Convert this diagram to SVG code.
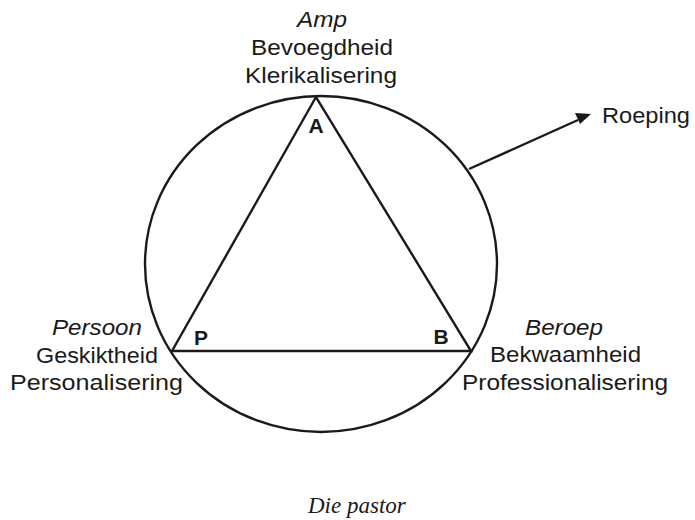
<svg xmlns="http://www.w3.org/2000/svg" width="695" height="520" viewBox="0 0 695 520">
<style>
.t{font-family:"Liberation Sans",Arial,sans-serif;font-size:22px;fill:#1a1a1a}
.i{font-style:italic}
.b{font-family:"Liberation Sans",Arial,sans-serif;font-size:21px;font-weight:bold;fill:#1a1a1a;text-anchor:middle}
.s{fill:none;stroke:#1a1a1a;stroke-width:2.4}
.cap{font-family:"Liberation Serif","Times New Roman",serif;font-size:23px;font-style:italic;fill:#1a1a1a}
</style>
<defs>
<marker id="ah" markerWidth="10" markerHeight="10" refX="9" refY="5" orient="auto" markerUnits="userSpaceOnUse" viewBox="0 0 10 10">
<path d="M0,0 L10,5 L0,10 Z" fill="#1a1a1a"/>
</marker>
</defs>
<rect width="695" height="520" fill="#fff"/>
<g id="circle"><ellipse class="s" cx="321" cy="264" rx="176" ry="168"/></g>
<g id="triangle"><polygon class="s" points="316,97 172,351 471,351" stroke-linejoin="miter"/></g>
<g id="connectors">
<line class="s" x1="469" y1="169" x2="578" y2="120"/>
<path d="M591,114 L575,113 L580,124 Z" fill="#1a1a1a"/>
</g>
<g id="node-A">
<text class="b" x="316" y="133">A</text>
<text class="t i" x="297" y="27" textLength="50" lengthAdjust="spacingAndGlyphs">Amp</text>
<text class="t" x="251" y="55" textLength="142" lengthAdjust="spacingAndGlyphs">Bevoegdheid</text>
<text class="t" x="245" y="83" textLength="152" lengthAdjust="spacingAndGlyphs">Klerikalisering</text>
</g>
<g id="node-P">
<text class="b" x="201" y="345">P</text>
<text class="t i" x="52" y="335" textLength="90" lengthAdjust="spacingAndGlyphs">Persoon</text>
<text class="t" x="36" y="363" textLength="122" lengthAdjust="spacingAndGlyphs">Geskiktheid</text>
<text class="t" x="10" y="390" textLength="173" lengthAdjust="spacingAndGlyphs">Personalisering</text>
</g>
<g id="node-B">
<text class="b" x="441" y="344">B</text>
<text class="t i" x="525" y="335" textLength="78" lengthAdjust="spacingAndGlyphs">Beroep</text>
<text class="t" x="490" y="362" textLength="151" lengthAdjust="spacingAndGlyphs">Bekwaamheid</text>
<text class="t" x="462" y="390" textLength="206" lengthAdjust="spacingAndGlyphs">Professionalisering</text>
</g>
<g id="node-Roeping">
<text class="t" x="602" y="123" textLength="88" lengthAdjust="spacingAndGlyphs">Roeping</text>
</g>
<g id="caption"><text class="cap" x="308" y="513">Die pastor</text></g>
</svg>
